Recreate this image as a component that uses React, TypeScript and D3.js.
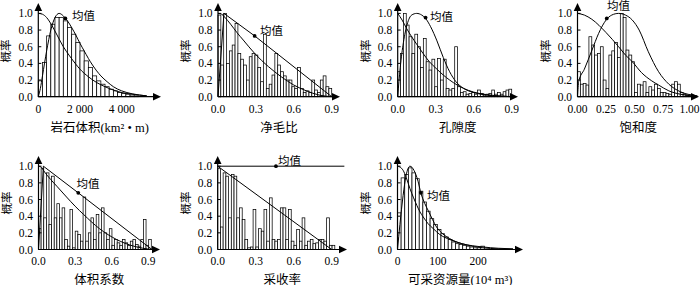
import React from "react";
import * as d3 from "d3";

type Pt = [number, number];

// ---------- shared tick labels ----------
const yTickValues = [0, 0.2, 0.4, 0.6, 0.8, 1.0];
const yTickLabels = ["0.0", "0.2", "0.4", "0.6", "0.8", "1.0"];

// ---------- panel 1: 岩石体积 ----------
const rockBinWidth = 200;
const rockBars = [0.19, 0.41, 0.73, 0.87, 0.95, 0.95, 0.91, 0.83, 0.75, 0.65, 0.55, 0.43, 0.35, 0.25, 0.19, 0.15, 0.12, 0.09, 0.07, 0.05, 0.04, 0.03, 0.02, 0.01];
const rockDensity: Pt[] = [[0, 0], [100, 0.1], [200, 0.25], [400, 0.55], [600, 0.8], [800, 0.95], [1000, 1.0], [1200, 0.97], [1400, 0.91], [1600, 0.83], [1800, 0.74], [2000, 0.64], [2200, 0.55], [2400, 0.46], [2600, 0.38], [2800, 0.31], [3000, 0.25], [3300, 0.18], [3600, 0.12], [4000, 0.07], [4500, 0.035], [5200, 0.01]];
const rockExceed: Pt[] = [[0, 1.0], [200, 0.99], [400, 0.95], [640, 0.86], [900, 0.74], [1200, 0.6], [1500, 0.49], [1800, 0.39], [2000, 0.33], [2400, 0.24], [2800, 0.17], [3200, 0.12], [3600, 0.08], [4000, 0.05], [4500, 0.03], [5200, 0.01]];
const rockMean: Pt = [1300, 0.94];
const rockTicks = [0, 2000, 4000];
const rockTickLabels = ["0", "2 000", "4 000"];

// ---------- panel 2: 净毛比 ----------
const ntgBinWidth = 0.0225;
const ntgBars = [0.98, 0.38, 1.0, 0.4, 0.55, 0.62, 0.88, 0.52, 0.45, 0.38, 0.2, 0.48, 0.52, 0.5, 0.35, 0.18, 0.75, 0.1, 0.15, 0.26, 0.52, 0.38, 0.3, 0.25, 0.2, 0.2, 0.12, 0.1, 0.35, 0.1, 0.05, 0.07, 0.05, 0.2, 0.08, 0.05, 0.2, 0.25, 0.12, 0.1];
const ntgDensity: Pt[] = [[0, 0], [0.047, 1.0], [0.29, 0.73], [0.9, 0]];
const ntgExceed: Pt[] = [[0, 1.0], [0.03, 0.99], [0.05, 0.96], [0.1, 0.87], [0.15, 0.77], [0.2, 0.68], [0.29, 0.52], [0.4, 0.36], [0.5, 0.24], [0.6, 0.14], [0.7, 0.07], [0.8, 0.02], [0.9, 0]];
const ntgMean: Pt = [0.29, 0.73];

// ---------- panel 3: 孔隙度 ----------
const porBinWidth = 0.0225;
const porBars = [0.3, 0.52, 1.0, 0.86, 0.72, 0.52, 0.75, 0.6, 0.35, 0.7, 0.42, 0.32, 0.45, 0.12, 0.46, 0.2, 0.45, 0.1, 0.08, 0.1, 0.6, 0.12, 0.05, 0.06, 0.03, 0.04, 0.05, 0.03, 0.08, 0.04, 0.02, 0.03, 0.04, 0.08, 0.03, 0.05, 0.03, 0.06, 0.08, 0.09];
const porDensity: Pt[] = [[0, 0], [0.02, 0.35], [0.045, 0.65], [0.075, 0.87], [0.11, 0.98], [0.15, 1.0], [0.19, 0.98], [0.22, 0.94], [0.26, 0.84], [0.31, 0.67], [0.36, 0.47], [0.41, 0.3], [0.46, 0.18], [0.52, 0.1], [0.6, 0.05], [0.7, 0.02], [0.8, 0.007], [0.9, 0]];
const porExceed: Pt[] = [[0, 1.0], [0.035, 0.92], [0.07, 0.82], [0.11, 0.72], [0.15, 0.63], [0.2, 0.52], [0.25, 0.42], [0.31, 0.33], [0.36, 0.26], [0.41, 0.2], [0.47, 0.14], [0.52, 0.1], [0.6, 0.055], [0.7, 0.025], [0.8, 0.01], [0.9, 0.0]];
const porMean: Pt = [0.22, 0.95];

// ---------- panel 4: 饱和度 ----------
const satBinWidth = 0.025;
const satBars = [0.3, 0.15, 0.16, 0.14, 0.72, 0.62, 0.5, 0.52, 0.6, 0.2, 0.1, 0.5, 0.55, 0.65, 0.47, 1.0, 0.95, 0.56, 0.5, 0.42, 0.05, 0.15, 0.14, 0.18, 0.05, 0.12, 0.08, 0.15, 0.1, 0.05, 0.05, 0.04, 0.03, 0.15, 0.18, 0.15, 0.05, 0.03, 0.02, 0.02];
const satDensity: Pt[] = [[0, 0], [0.01, 0.18], [0.06, 0.33], [0.127, 0.56], [0.185, 0.76], [0.25, 0.92], [0.3, 0.98], [0.36, 1.0], [0.42, 0.98], [0.48, 0.92], [0.54, 0.8], [0.62, 0.54], [0.71, 0.3], [0.8, 0.15], [0.9, 0.06], [1.0, 0.02], [1.05, 0.01]];
const satExceed: Pt[] = [[0, 1.0], [0.06, 0.98], [0.125, 0.93], [0.25, 0.77], [0.36, 0.6], [0.42, 0.5], [0.48, 0.42], [0.56, 0.29], [0.65, 0.19], [0.71, 0.14], [0.8, 0.07], [0.9, 0.03], [1.0, 0.01], [1.05, 0.005]];
const satMean: Pt = [0.256, 0.94];
const satTicks = [0, 0.25, 0.5, 0.75, 1.0];
const satTickLabels = ["0.00", "0.25", "0.50", "0.75", "1.00"];

// ---------- panel 5: 体积系数 ----------
const bvfBinWidth = 0.0215;
const bvfBars = [0.25, 0.97, 0.38, 0.92, 0.3, 0.88, 0.38, 0.55, 0.38, 0.5, 0.12, 0.04, 0.48, 0.02, 0.22, 0.18, 0.1, 0.63, 0.1, 0.2, 0.38, 0.12, 0.42, 0.2, 0.5, 0.2, 0.12, 0.25, 0.05, 0.12, 0.08, 0.05, 0.12, 0.08, 0.05, 0.1, 0.12, 0.06, 0.04, 0.12, 0.36, 0.05, 0.12];
const bvfDensity: Pt[] = [[0, 0], [0.04, 1.0], [0.326, 0.68], [0.93, 0]];
const bvfExceed: Pt[] = [[0, 1.0], [0.02, 0.99], [0.05, 0.93], [0.1, 0.84], [0.15, 0.76], [0.23, 0.63], [0.3, 0.52], [0.37, 0.42], [0.5, 0.25], [0.64, 0.12], [0.78, 0.04], [0.93, 0]];
const bvfMean: Pt = [0.326, 0.68];

// ---------- panel 6: 采收率 ----------
const rfBinWidth = 0.0215;
const rfBars = [0.97, 0.27, 0.92, 0.88, 0.38, 0.9, 0.88, 0.38, 0.5, 0.36, 0.12, 0.02, 0.03, 0.48, 0.03, 0.25, 0.22, 0.48, 0.1, 0.62, 0.12, 0.1, 0.12, 0.5, 0.5, 0.12, 0.48, 0.1, 0.05, 0.24, 0.1, 0.38, 0.05, 0.1, 0.12, 0.07, 0.08, 0.12, 0.12, 0.1, 0.38, 0.05, 0.05];
const rfDensity: Pt[] = [[0, 1.0], [1.0, 1.0]];
const rfExceed: Pt[] = [[0, 1.0], [0.9, 0]];
const rfMean: Pt = [0.46, 1.0];

// ---------- panel 7: 可采资源量 ----------
const resBinWidth = 9;
const resBars = [0.44, 0.86, 0.9, 0.98, 0.92, 0.85, 0.7, 0.57, 0.46, 0.37, 0.3, 0.24, 0.19, 0.15, 0.12, 0.09, 0.07, 0.06, 0.05, 0.04, 0.03, 0.02, 0.02, 0.04];
const resDensity: Pt[] = [[0, 0], [6, 0.3], [14, 0.65], [21, 0.88], [31, 1.0], [41, 0.95], [51, 0.82], [58, 0.68], [68, 0.55], [76, 0.47], [87, 0.36], [97, 0.27], [112, 0.19], [130, 0.13], [150, 0.085], [172, 0.055], [212, 0.02], [250, 0.008], [287, 0.003]];
const resExceed: Pt[] = [[0, 1.0], [6, 0.99], [14, 0.95], [22, 0.86], [31, 0.73], [40, 0.62], [48, 0.53], [56, 0.45], [64, 0.39], [76, 0.31], [89, 0.25], [105, 0.18], [130, 0.12], [160, 0.07], [213, 0.03], [250, 0.015], [287, 0.008]];
const resMean: Pt = [58, 0.68];
const resTicks = [0, 100, 200];
const resTickLabels = ["0", "100", "200"];

const fracTicks = [0, 0.3, 0.6, 0.9];
const fracTickLabels = ["0.0", "0.3", "0.6", "0.9"];

// ---------- layout ----------
const rows = {
  top: { y0: 96.7, y1: 13.4, tip: 3, tickBase: 113.2, titleBase: 131.5, yTitle: 51 },
  bottom: { y0: 249.5, y1: 166.2, tip: 156, tickBase: 264.5, titleBase: 283.5, yTitle: 203 },
};

type CurveKind = "smooth" | "linear";

interface PanelSpec {
  row: keyof typeof rows;
  domain: [number, number];
  range: [number, number];
  tipX: number;
  bars: number[];
  binWidth: number;
  density: Pt[];
  densityKind: CurveKind;
  exceed: Pt[];
  exceedKind: CurveKind;
  mean: Pt;
  meanLabel: [number, number];
  ticks: number[];
  tickLabels: string[];
  title: string;
}

const panels: PanelSpec[] = [
  { row: "top", domain: [0, 4000], range: [38.3, 121.7], tipX: 161, bars: rockBars, binWidth: rockBinWidth, density: rockDensity, densityKind: "smooth", exceed: rockExceed, exceedKind: "smooth", mean: rockMean, meanLabel: [72, 19.5], ticks: rockTicks, tickLabels: rockTickLabels, title: "岩石体积(km² • m)" },
  { row: "top", domain: [0, 0.9], range: [218, 331.7], tipX: 340, bars: ntgBars, binWidth: ntgBinWidth, density: ntgDensity, densityKind: "linear", exceed: ntgExceed, exceedKind: "smooth", mean: ntgMean, meanLabel: [260, 34.5], ticks: fracTicks, tickLabels: fracTickLabels, title: "净毛比" },
  { row: "top", domain: [0, 0.9], range: [397.7, 511.7], tipX: 518, bars: porBars, binWidth: porBinWidth, density: porDensity, densityKind: "smooth", exceed: porExceed, exceedKind: "smooth", mean: porMean, meanLabel: [430, 21], ticks: fracTicks, tickLabels: fracTickLabels, title: "孔隙度" },
  { row: "top", domain: [0, 1.0], range: [577.5, 691.7], tipX: 699, bars: satBars, binWidth: satBinWidth, density: satDensity, densityKind: "smooth", exceed: satExceed, exceedKind: "smooth", mean: satMean, meanLabel: [607, 9.5], ticks: satTicks, tickLabels: satTickLabels, title: "饱和度" },
  { row: "bottom", domain: [0, 0.9], range: [38.5, 148.3], tipX: 160, bars: bvfBars, binWidth: bvfBinWidth, density: bvfDensity, densityKind: "linear", exceed: bvfExceed, exceedKind: "smooth", mean: bvfMean, meanLabel: [76.5, 187.5], ticks: fracTicks, tickLabels: fracTickLabels, title: "体积系数" },
  { row: "bottom", domain: [0, 0.9], range: [217.7, 331.7], tipX: 347, bars: rfBars, binWidth: rfBinWidth, density: rfDensity, densityKind: "linear", exceed: rfExceed, exceedKind: "linear", mean: rfMean, meanLabel: [278, 164.5], ticks: fracTicks, tickLabels: fracTickLabels, title: "采收率" },
  { row: "bottom", domain: [0, 200], range: [397.5, 478], tipX: 523, bars: resBars, binWidth: resBinWidth, density: resDensity, densityKind: "smooth", exceed: resExceed, exceedKind: "smooth", mean: resMean, meanLabel: [427, 199.5], ticks: resTicks, tickLabels: resTickLabels, title: "可采资源量(10⁴ m³)" },
];

const NUM_FONT = "'Liberation Serif', 'Times New Roman', serif";
const CJK_FONT = "'Liberation Serif', 'Noto Sans CJK SC', serif";
const TICK_SIZE = 11.5;
const RIGHT_LIMIT = 699.5;

function Panel({ spec }: { spec: PanelSpec }) {
  const r = rows[spec.row];
  const x = d3.scaleLinear().domain(spec.domain).range(spec.range);
  const y = d3.scaleLinear().domain([0, 1]).range([r.y0, r.y1]);
  const ax = x(0);
  const mk = (kind: CurveKind) =>
    d3
      .line<Pt>()
      .x((d) => x(d[0]))
      .y((d) => y(d[1]))
      .curve(kind === "smooth" ? d3.curveMonotoneX : d3.curveLinear);

  return (
    <g>
      {spec.bars.map((h, i) => {
        const x0 = x(i * spec.binWidth);
        const x1 = x((i + 1) * spec.binWidth);
        return (
          <rect
            key={i}
            x={x0}
            y={y(h)}
            width={x1 - x0}
            height={y(0) - y(h)}
            fill="#fff"
            stroke="#000"
            strokeWidth={0.75}
          />
        );
      })}
      <path d={mk(spec.densityKind)(spec.density) || ""} fill="none" stroke="#000" strokeWidth={1} />
      <path d={mk(spec.exceedKind)(spec.exceed) || ""} fill="none" stroke="#000" strokeWidth={1} />
      <circle cx={x(spec.mean[0])} cy={y(spec.mean[1])} r={1.9} fill="#000" />
      <text x={spec.meanLabel[0]} y={spec.meanLabel[1]} fontFamily={CJK_FONT} fontSize={11.5}>
        均值
      </text>
      {/* axes */}
      <line x1={ax} y1={r.y0} x2={ax} y2={r.tip + 6} stroke="#000" strokeWidth={1.2} />
      <polygon points={`${ax},${r.tip} ${ax - 3.8},${r.tip + 8} ${ax + 3.8},${r.tip + 8}`} fill="#000" />
      <line x1={ax} y1={r.y0} x2={spec.tipX - 6} y2={r.y0} stroke="#000" strokeWidth={1.2} />
      <polygon
        points={`${spec.tipX},${r.y0} ${spec.tipX - 8},${r.y0 - 3.8} ${spec.tipX - 8},${r.y0 + 3.8}`}
        fill="#000"
      />
      {yTickValues.map((v, i) => (
        <g key={i}>
          <line x1={ax} x2={ax + 3} y1={y(v)} y2={y(v)} stroke="#000" strokeWidth={1} />
          <text
            x={ax - 5.5}
            y={y(v)}
            dy="0.35em"
            textAnchor="end"
            fontFamily={NUM_FONT}
            fontSize={TICK_SIZE}
          >
            {yTickLabels[i]}
          </text>
        </g>
      ))}
      {spec.ticks.map((v, i) => {
        const label = spec.tickLabels[i];
        const halfW = label.length * TICK_SIZE * 0.25;
        const cx = x(v);
        const overflow = cx + halfW > RIGHT_LIMIT;
        return (
          <text
            key={i}
            x={overflow ? RIGHT_LIMIT : cx}
            y={r.tickBase}
            textAnchor={overflow ? "end" : "middle"}
            fontFamily={NUM_FONT}
            fontSize={TICK_SIZE}
          >
            {label}
          </text>
        );
      })}
      <text
        x={(ax + spec.tipX) / 2}
        y={r.titleBase}
        textAnchor="middle"
        fontFamily={CJK_FONT}
        fontSize={12.5}
      >
        {spec.title}
      </text>
      <text
        transform={`translate(${ax - 28}, ${r.yTitle}) rotate(-90)`}
        textAnchor="middle"
        fontFamily={CJK_FONT}
        fontSize={11.5}
      >
        概率
      </text>
    </g>
  );
}

export default function App() {
  return (
    <svg
      width={700}
      height={285}
      viewBox="0 0 700 285"
      style={{ position: "absolute", left: 0, top: 0, background: "#fff" }}
    >
      <rect x={0} y={0} width={700} height={285} fill="#fff" />
      {panels.map((p, i) => (
        <Panel key={i} spec={p} />
      ))}
    </svg>
  );
}
